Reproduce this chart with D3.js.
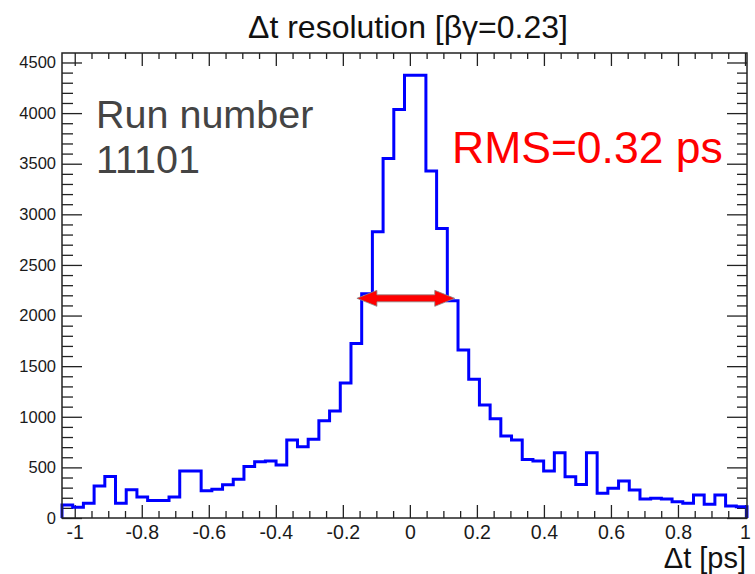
<!DOCTYPE html>
<html>
<head>
<meta charset="utf-8">
<script src="https://cdn.jsdelivr.net/npm/d3@7"></script>
<style>
  body { margin: 0; background: #fff; }
  svg { font-family: "Liberation Sans", Arial, sans-serif; }
</style>
</head>
<body>
<div id="chart"></div>
<script>
// histogram of delta t, 64 bins
const xMin = -1.038, xMax = 1.006;
const nBins = 64;
const counts = [
  128, 105, 145, 316, 411, 145, 280, 207, 174, 174,
  207, 464, 464, 270, 283, 329, 382, 510, 556, 563,
  523, 770, 704, 777, 961, 1057, 1333, 1725, 2215, 2827,
  3552, 4036, 4375, 4375, 3427, 2861, 2146, 1659, 1370, 1116,
  980, 810, 770, 579, 563, 464, 645, 408, 332, 645,
  244, 293, 365, 276, 188, 194, 188, 161, 145, 227,
  135, 227, 118, 112
];
const xTicks = [-1, -0.8, -0.6, -0.4, -0.2, 0, 0.2, 0.4, 0.6, 0.8, 1];
const yTicks = [0, 500, 1000, 1500, 2000, 2500, 3000, 3500, 4000, 4500];
const arrowX = [-0.158, 0.134], arrowY = 2170;

const W = 755, H = 574;
const margin = { top: 53, right: 8, bottom: 56, left: 62 },
  width = W - margin.left - margin.right,
  height = H - margin.top - margin.bottom;

const svg = d3.select("#chart").append("svg")
  .attr("width", W).attr("height", H);

const g = svg.append("g")
  .attr("transform", "translate(" + margin.left + "," + margin.top + ")");

const x = d3.scaleLinear().domain([xMin, xMax]).range([0, width]);
const yMax = d3.max(counts) * 1.05;
const y = d3.scaleLinear().domain([0, yMax]).range([height, 0]);

const bw = (xMax - xMin) / nBins;
const minorX = d3.range(-1, 1.0001, 0.05).map(v => +v.toFixed(2)).filter(v => !xTicks.includes(v));
const minorY = d3.range(0, yMax, 100).filter(v => v % 500 !== 0);

// plain hyphen minus like ROOT
const fmt = d => String(d);

// axes, ticks pointing into the frame
function axisStyle(sel) {
  sel.select(".domain").remove();
  sel.selectAll("line").attr("stroke", "#222").attr("stroke-width", 1.3);
  sel.selectAll("text").attr("fill", "#1a1a1a");
}

g.append("g").attr("transform", "translate(0," + height + ")")
  .call(d3.axisBottom(x).tickValues(xTicks).tickSize(-13).tickPadding(7).tickFormat(fmt))
  .call(axisStyle)
  .selectAll("text").style("font-size", "19.5px").attr("dy", "0.71em");
g.append("g").attr("transform", "translate(0," + height + ")")
  .call(d3.axisBottom(x).tickValues(minorX).tickSize(-7).tickFormat(""))
  .call(axisStyle);
g.append("g")
  .call(d3.axisTop(x).tickValues(xTicks).tickSize(-13).tickFormat(""))
  .call(axisStyle);
g.append("g")
  .call(d3.axisTop(x).tickValues(minorX).tickSize(-6).tickFormat(""))
  .call(axisStyle);

g.append("g")
  .call(d3.axisLeft(y).tickValues(yTicks).tickSize(-20).tickPadding(6).tickFormat(fmt))
  .call(axisStyle)
  .selectAll("text").style("font-size", "16.5px");
g.append("g")
  .call(d3.axisLeft(y).tickValues(minorY).tickSize(-11).tickFormat(""))
  .call(axisStyle);
g.append("g").attr("transform", "translate(" + width + ",0)")
  .call(d3.axisRight(y).tickValues(yTicks).tickSize(-20).tickFormat(""))
  .call(axisStyle);
g.append("g").attr("transform", "translate(" + width + ",0)")
  .call(d3.axisRight(y).tickValues(minorY).tickSize(-10).tickFormat(""))
  .call(axisStyle);

// histogram outline
const pts = [[x(xMin), y(0)]];
counts.forEach((c, i) => {
  pts.push([x(xMin + i * bw), y(c)]);
  pts.push([x(xMin + (i + 1) * bw), y(c)]);
});
pts.push([x(xMin + nBins * bw), y(0)]);

g.append("path")
  .attr("d", d3.line()(pts))
  .attr("fill", "none")
  .attr("stroke", "#0000ff")
  .attr("stroke-width", 3)
  .attr("stroke-linejoin", "miter");

// frame
g.append("rect")
  .attr("width", width).attr("height", height)
  .attr("fill", "none").attr("stroke", "#222").attr("stroke-width", 1.5);

// double arrow
const ax0 = x(arrowX[0]), ax1 = x(arrowX[1]), ay = y(arrowY);
const sh = 3.5, hh = 8, hl = 20;
const arrowPts = [
  [ax0, ay], [ax0 + hl, ay - hh], [ax0 + hl, ay - sh], [ax1 - hl, ay - sh],
  [ax1 - hl, ay - hh], [ax1, ay], [ax1 - hl, ay + hh], [ax1 - hl, ay + sh],
  [ax0 + hl, ay + sh], [ax0 + hl, ay + hh]
];
g.append("polygon")
  .attr("points", arrowPts.map(p => p.join(",")).join(" "))
  .attr("fill", "#ff0000")
  .attr("stroke", "#888")
  .attr("stroke-width", 0.8);

// texts
svg.append("text")
  .attr("x", 408).attr("y", 38)
  .attr("text-anchor", "middle")
  .style("font-size", "32px")
  .attr("fill", "#111")
  .text("Δt resolution [βγ=0.23]");

svg.append("text")
  .attr("x", 96).attr("y", 128)
  .style("font-size", "39.5px")
  .attr("fill", "#444")
  .text("Run number");
svg.append("text")
  .attr("x", 96).attr("y", 173)
  .style("font-size", "39.5px")
  .attr("fill", "#444")
  .text("11101");

svg.append("text")
  .attr("x", 452).attr("y", 163)
  .style("font-size", "44.5px")
  .attr("fill", "#ff0000")
  .text("RMS=0.32 ps");

svg.append("text")
  .attr("x", 746).attr("y", 568)
  .attr("text-anchor", "end")
  .style("font-size", "29px")
  .attr("fill", "#111")
  .text("Δt [ps]");
</script>
</body>
</html>
